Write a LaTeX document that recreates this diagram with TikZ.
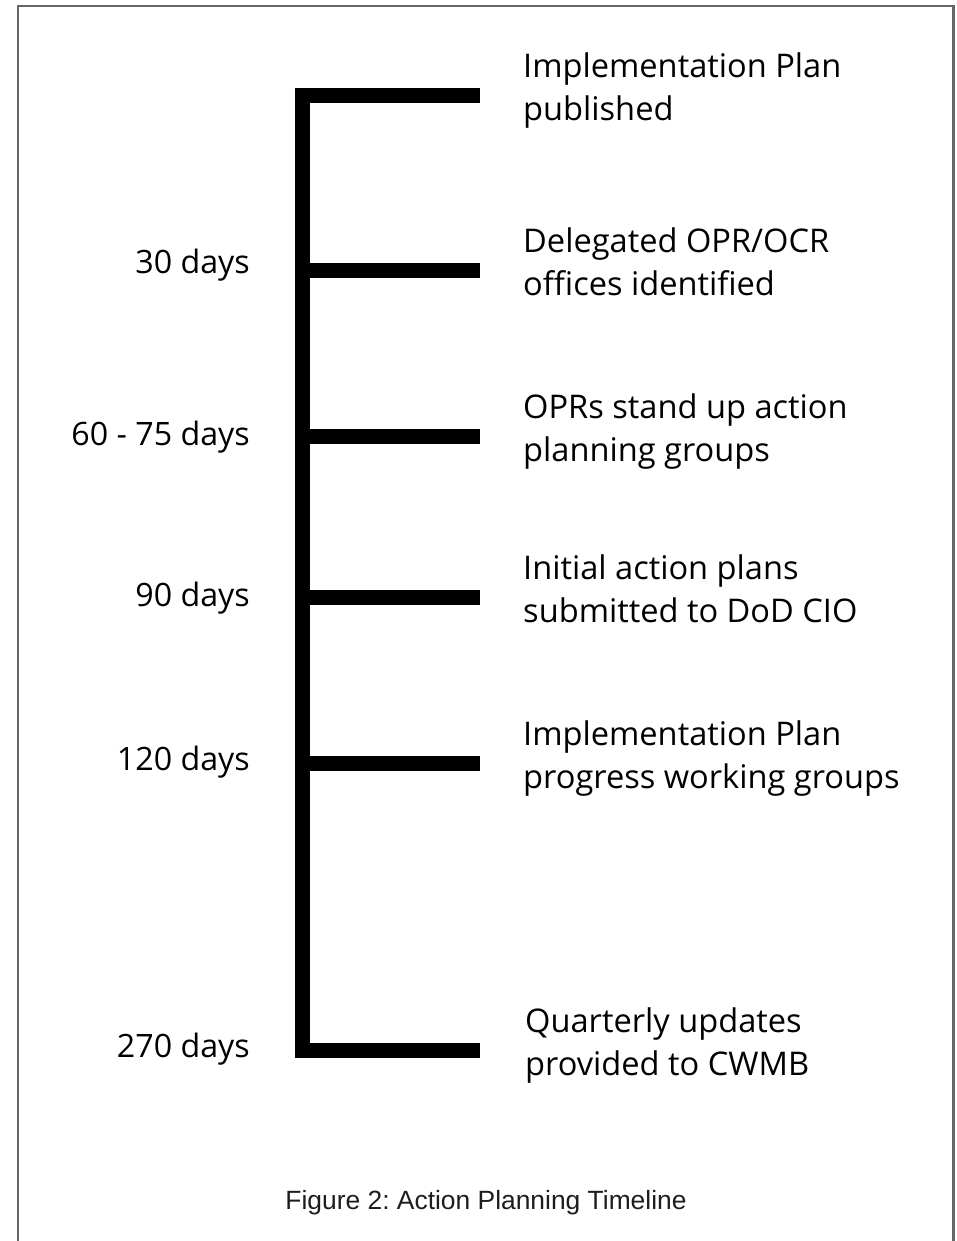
\documentclass[tikz,border=0pt]{standalone}
\usepackage{fontspec}
\setmainfont{Open Sans}
\newfontfamily\capfont{Liberation Sans}
\definecolor{framegray}{RGB}{102,102,102}
\definecolor{captext}{RGB}{30,28,28}
\frenchspacing
\begin{document}
\begin{tikzpicture}[x=1pt,y=-1pt,
  frameline/.style={draw=framegray,line width=2.6pt},
  spine/.style={draw=black,line width=15pt,line join=miter,line cap=butt},
  event/.style={anchor=base west,align=left,inner sep=0pt,font=\fontsize{32.6}{43}\selectfont},
  when/.style={anchor=base east,inner sep=0pt,font=\fontsize{32.2}{43}\selectfont},
  caption/.style={anchor=base,inner sep=0pt,text=captext,font=\capfont\fontsize{26.4}{30}\selectfont}]
\useasboundingbox (0,0) rectangle (957,1241);
\draw[frameline] (18,1241) -- (18,6) -- (953.5,6) -- (953.5,1241);
% spine coordinates
\coordinate (s1) at (302,96);
\coordinate (s2) at (302,270);
\coordinate (s3) at (302,436);
\coordinate (s4) at (302,597);
\coordinate (s5) at (302,763);
\coordinate (s6) at (302,1050);
\coordinate (e1) at (480,96);
\coordinate (e2) at (480,270);
\coordinate (e3) at (480,436);
\coordinate (e4) at (480,597);
\coordinate (e5) at (480,763);
\coordinate (e6) at (480,1050);
\draw[spine] (e1) -- (s1) -- (s6) -- (e6);
\draw[spine] (s2) -- (e2);
\draw[spine] (s3) -- (e3);
\draw[spine] (s4) -- (e4);
\draw[spine] (s5) -- (e5);
% event labels (anchor = baseline of second line)
\node[event] (l1) at (523,121) {Implementation Plan\\published};
\node[event] (l2) at (523,295) {Delegated OPR/OCR\\offices identified};
\node[event] (l3) at (523,461) {OPRs stand up action\\planning groups};
\node[event] (l4) at (523,622) {Initial action plans\\submitted to DoD CIO};
\node[event] (l5) at (523,788) {Implementation Plan\\progress working groups};
\node[event] (l6) at (525,1075) {Quarterly updates\\provided to CWMB};
% time labels
\node[when] (w2) at (250,273) {30 days};
\node[when] (w3) at (250,445) {60 - 75 days};
\node[when] (w4) at (250,606) {90 days};
\node[when] (w5) at (250,770) {120 days};
\node[when] (w6) at (250,1057) {270 days};
% caption
\node[caption] (cap) at (486,1209) {Figure 2: Action Planning Timeline};
\end{tikzpicture}
\end{document}
